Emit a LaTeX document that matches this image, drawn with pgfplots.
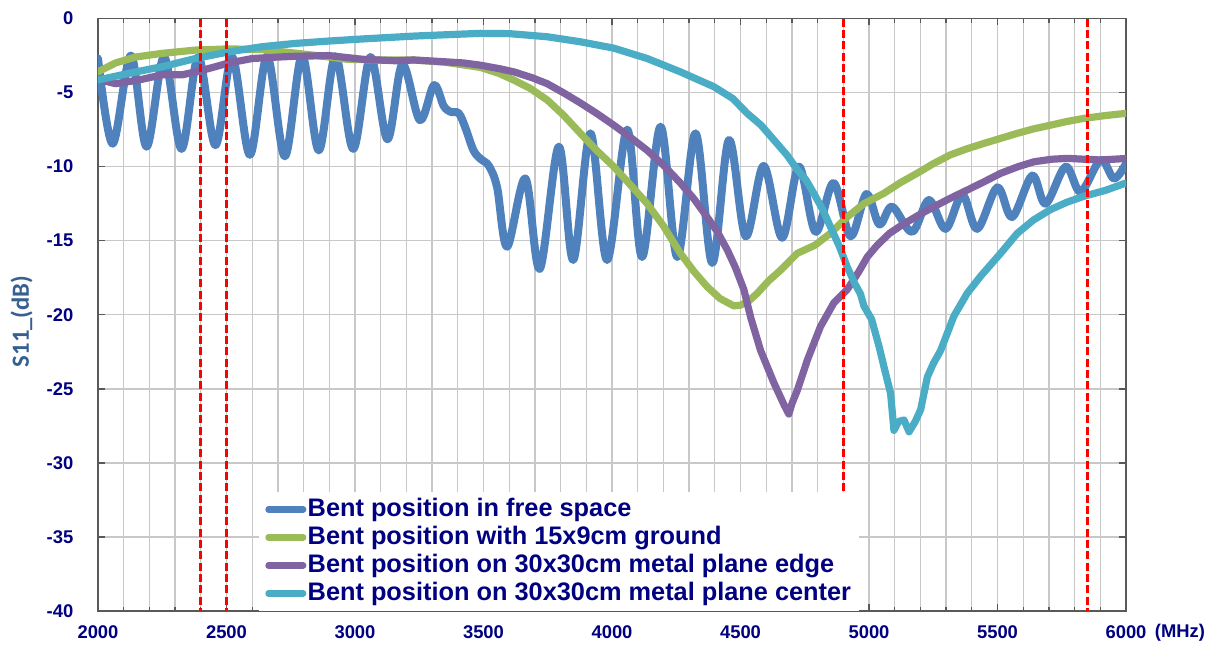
\documentclass[border=0pt]{standalone}
\usepackage{fontspec}
\setmainfont{Liberation Sans}
\newfontfamily\calibri{Carlito}
\usepackage{pgfplots}
\pgfplotsset{compat=1.18}
\definecolor{cblue}{RGB}{79,129,189}
\definecolor{cgreen}{RGB}{155,187,89}
\definecolor{cpurple}{RGB}{128,100,162}
\definecolor{ccyan}{RGB}{75,172,198}
\definecolor{navyc}{RGB}{0,0,128}
\definecolor{ylab}{RGB}{55,96,146}
\definecolor{gridc}{RGB}{200,200,200}
\definecolor{axc}{RGB}{89,89,89}
\begin{document}
\begin{tikzpicture}
\begin{axis}[
 scale only axis, width=771pt, height=444.4pt,
 xmin=2000, xmax=6000, ymin=-40, ymax=0,
 xtick={2000,2500,...,6000}, ytick={-40,-35,...,0},
 minor x tick num=4,
 grid=both,
 major grid style={gridc, line width=1pt},
 minor grid style={gridc, line width=1pt},
 axis line style={axc, line width=1.1pt},
 tick style={axc, line width=1pt},
 tick align=inside,
 major tick length=5pt, minor tick length=3pt,
 /pgf/number format/assume math mode=true,
 /pgf/number format/1000 sep={},
 ticklabel style={font=\fontsize{13.8}{15}\selectfont\bfseries, text=navyc},
 xticklabel style={yshift=-7.5pt},
 yticklabel style={xshift=-15pt},
 ylabel={\calibri\bfseries S11\_(dB)},
 ylabel style={font=\fontsize{18.5}{20}\selectfont, text=ylab, at={(axis description cs:0,0.5)}, anchor=center, yshift=57.4pt, xshift=-5pt},
 legend style={at={(0.156,0)}, anchor=south west, draw=none, fill=white,
   font=\fontsize{19}{21}\selectfont\bfseries, text=navyc,
   nodes={inner sep=1pt, text height=14pt, text depth=4pt},
   row sep=1pt, inner xsep=5pt, inner ysep=3pt},
 legend cell align=left,
 legend image code/.code={\draw[#1, line width=4.8pt] (0pt,0pt) -- (26pt,0pt);},
 every axis plot/.append style={line join=round, line cap=round},
 clip=true,
]
\coordinate (ll) at (rel axis cs:0,0);
\coordinate (ur) at (rel axis cs:1,1);
\addplot[cblue, line width=6pt, smooth, tension=0.55] coordinates {
(2000,-2.7) (2057,-8.45) (2128,-2.5) (2189,-8.65) (2257,-2.6) (2325,-8.8)
(2390,-2.6) (2457,-8.55) (2522,-2.6) (2591,-9.2) (2658,-2.55) (2727,-9.3)
(2794,-2.5) (2859,-8.9) (2924,-2.55) (2993,-8.8) (3060,-2.6) (3126,-8.15)
(3184,-3.1) (3252,-6.85) (3307,-4.5) (3345,-5.9) (3372,-6.3) (3404,-6.4)
(3430,-7.4) (3461,-8.9) (3490,-9.5) (3521,-9.95) (3553,-11.4) (3592,-15.4)
(3663,-10.8) (3719,-16.9) (3793,-8.65) (3849,-16.3) (3916,-7.75) (3981,-16.3)
(4059,-7.5) (4117,-16.1) (4189,-7.3) (4254,-16.1) (4325,-7.75) (4390,-16.5)
(4455,-8.2) (4520,-14.7) (4590,-9.95) (4662,-14.8) (4727,-10.0) (4792,-14.4)
(4862,-11.1) (4928,-14.7) (4990,-11.85) (5040,-13.9) (5090,-12.7) (5168,-14.4)
(5233,-12.25) (5298,-14.2) (5363,-11.9) (5421,-14.2) (5499,-11.4) (5557,-13.4)
(5635,-10.6) (5687,-12.5) (5765,-10.0) (5823,-11.7) (5901,-9.55) (5953,-10.8)
(6000,-9.8)};
\addlegendentry{Bent position in free space}
\addplot[cgreen, line width=5.4pt] coordinates {
(2000,-3.6) (2068,-3.0) (2146,-2.6) (2250,-2.35) (2379,-2.13) (2509,-2.05)
(2640,-2.1) (2775,-2.35) (2900,-2.6) (2969,-2.75) (3100,-2.8) (3228,-2.8)
(3350,-2.95) (3488,-3.3) (3560,-3.7) (3617,-4.15) (3680,-4.7) (3748,-5.5)
(3810,-6.5) (3877,-7.75) (3940,-8.9) (4007,-10.0) (4070,-11.2) (4137,-12.5)
(4200,-14.0) (4266,-15.85) (4320,-17.1) (4370,-18.1) (4420,-18.9) (4474,-19.4)
(4500,-19.35) (4530,-19.1) (4565,-18.55) (4610,-17.7) (4655,-17.0) (4721,-15.85)
(4790,-15.3) (4850,-14.5) (4915,-13.4) (4980,-12.5) (5058,-11.8) (5120,-11.1)
(5187,-10.45) (5250,-9.8) (5317,-9.2) (5380,-8.8) (5447,-8.43) (5510,-8.1)
(5577,-7.75) (5640,-7.45) (5706,-7.2) (5770,-6.95) (5836,-6.74) (5920,-6.55)
(6000,-6.4)};
\addlegendentry{Bent position with 15x9cm ground}
\addplot[cpurple, line width=5.4pt] coordinates {
(2000,-4.1) (2068,-4.4) (2159,-4.15) (2250,-3.8) (2328,-3.8) (2405,-3.5)
(2509,-3.0) (2600,-2.7) (2700,-2.6) (2768,-2.55) (2898,-2.5) (3028,-2.75)
(3157,-2.85) (3229,-2.8) (3330,-2.9) (3423,-3.0) (3488,-3.15) (3566,-3.4)
(3618,-3.6) (3690,-4.0) (3748,-4.4) (3810,-5.0) (3877,-5.7) (3940,-6.4)
(4007,-7.2) (4070,-8.0) (4137,-8.9) (4200,-9.9) (4266,-11.1) (4320,-12.2)
(4370,-13.4) (4410,-14.4) (4448,-15.6) (4480,-16.8) (4513,-18.3) (4540,-20.2)
(4578,-22.4) (4630,-24.6) (4670,-26.1) (4688,-26.7) (4700,-26.0) (4721,-25.1)
(4760,-23.06) (4811,-20.8) (4863,-19.2) (4915,-18.3) (4960,-17.1) (4993,-16.1)
(5032,-15.3) (5080,-14.5) (5123,-14.0) (5190,-13.3) (5253,-12.7) (5320,-12.1)
(5382,-11.58) (5450,-11.0) (5512,-10.45) (5580,-10.0) (5642,-9.67) (5710,-9.5)
(5771,-9.44) (5840,-9.5) (5901,-9.55) (6000,-9.45)};
\addlegendentry{Bent position on 30x30cm metal plane edge}
\addplot[ccyan, line width=5.4pt] coordinates {
(2000,-4.15) (2120,-3.7) (2250,-3.25) (2379,-2.7) (2509,-2.25) (2639,-1.9)
(2768,-1.68) (2898,-1.52) (3028,-1.38) (3235,-1.18) (3488,-1.0) (3600,-1.02)
(3748,-1.23) (3877,-1.57) (4007,-2.0) (4137,-2.7) (4266,-3.6) (4396,-4.6)
(4470,-5.4) (4526,-6.4) (4580,-7.2) (4630,-8.2) (4680,-9.2) (4721,-10.2)
(4755,-10.9) (4785,-11.8) (4820,-12.9) (4850,-14.06) (4885,-15.4) (4915,-16.76)
(4945,-17.9) (4967,-18.6) (4980,-19.4) (5010,-20.3) (5040,-22.2) (5058,-23.5)
(5084,-25.3) (5097,-27.8) (5115,-27.2) (5136,-27.1) (5156,-27.9) (5180,-27.2)
(5201,-26.4) (5227,-24.2) (5250,-23.3) (5279,-22.4) (5330,-20.1) (5382,-18.55)
(5434,-17.4) (5512,-15.85) (5577,-14.5) (5640,-13.6) (5706,-12.9) (5770,-12.4)
(5836,-12.0) (5920,-11.6) (6000,-11.1)};
\addlegendentry{Bent position on 30x30cm metal plane center}
\addplot[red, line width=2.2pt, dash pattern=on 6pt off 2.5pt, line cap=butt, forget plot] coordinates {(2400,0) (2400,-40)};
\addplot[red, line width=2.2pt, dash pattern=on 6pt off 2.5pt, line cap=butt, forget plot] coordinates {(2500,0) (2500,-40)};
\addplot[red, line width=2.2pt, dash pattern=on 6pt off 2.5pt, line cap=butt, forget plot] coordinates {(4900,0) (4900,-40)};
\addplot[red, line width=2.2pt, dash pattern=on 6pt off 2.5pt, line cap=butt, forget plot] coordinates {(5850,0) (5850,-40)};
\end{axis}
\node[anchor=west, inner sep=0pt, font=\fontsize{13.8}{15}\selectfont\bfseries, text=navyc] at ([xshift=21.5pt, yshift=-16.5pt]ll -| ur) {(MHz)};
\pgfresetboundingbox
\path[use as bounding box] ([xshift=-73.5pt,yshift=-25.5pt]ll) rectangle ([xshift=69.75pt,yshift=13.9pt]ur);
\end{tikzpicture}
\end{document}
